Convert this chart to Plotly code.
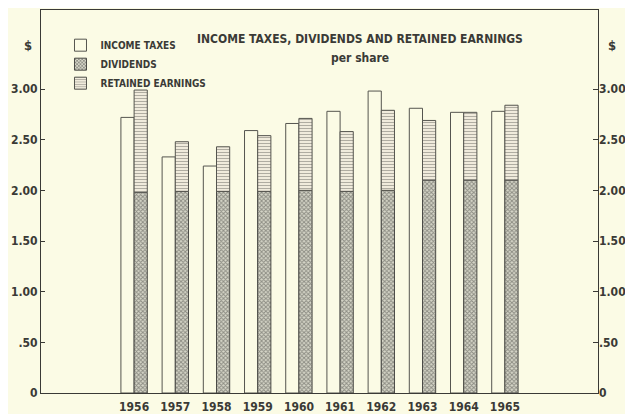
import plotly.graph_objects as go

years = ["1956", "1957", "1958", "1959", "1960", "1961", "1962", "1963", "1964", "1965"]
income_taxes = [2.72, 2.33, 2.24, 2.59, 2.66, 2.78, 2.98, 2.81, 2.77, 2.78]
dividends = [1.98, 1.99, 1.99, 1.99, 2.00, 1.99, 2.00, 2.10, 2.10, 2.10]
totals = [2.99, 2.48, 2.43, 2.54, 2.71, 2.58, 2.79, 2.69, 2.77, 2.84]
retained = [round(t - d, 2) for t, d in zip(totals, dividends)]
tick_vals = [0, 0.5, 1.0, 1.5, 2.0, 2.5, 3.0]
tick_text = ["0", ".50", "1.00", "1.50", "2.00", "2.50", "3.00"]

BG = "#FBFBE5"
INK = "#3a3a36"
FONT = "DejaVu Sans Condensed"

fig = go.Figure()
fig.add_trace(go.Bar(
    x=years, y=income_taxes, name="INCOME TAXES", offsetgroup="a",
    marker=dict(color=BG, line=dict(color="#55554f", width=1)),
))
fig.add_trace(go.Bar(
    x=years, y=dividends, name="DIVIDENDS", offsetgroup="b",
    marker=dict(color="#c4c4b6", line=dict(color="#4a4a46", width=1),
                pattern=dict(shape="x", size=3, solidity=0.55,
                             fgcolor="#444440", bgcolor="#d6d6c8")),
))
fig.add_trace(go.Bar(
    x=years, y=retained, base=dividends, name="RETAINED EARNINGS", offsetgroup="b",
    marker=dict(color="#efeada", line=dict(color="#55554f", width=1),
                pattern=dict(shape="-", size=3, solidity=0.35,
                             fgcolor="#6e6e66", bgcolor="#f0ebdc")),
))

axis_common = dict(showgrid=False, zeroline=False, showline=True, linecolor=INK,
                   linewidth=1, mirror=True, automargin=False)
tfont = dict(size=12, family=FONT, color=INK, weight="bold")

# the page body adds an 8px offset, so the figure is 8px smaller with 8px less margin on the left/top
fig.update_layout(
    width=625, height=406,
    margin=dict(l=33, r=35, t=2, b=21),
    paper_bgcolor=BG, plot_bgcolor=BG,
    barmode="group", bargap=0.36, bargroupgap=0,
    font=dict(family=FONT, color=INK, size=11),
    showlegend=True,
    legend=dict(x=0.035, y=0.946, xanchor="left", yanchor="top",
                bgcolor="rgba(0,0,0,0)", font=dict(size=10, family=FONT, color=INK, weight="bold"),
                itemwidth=30, tracegroupgap=0),
    xaxis=dict(type="category", range=[-2.26, 11.26], ticks="", **axis_common,
               tickfont=tfont, ticklabelstandoff=3),
    yaxis=dict(range=[0, 3.78], tickvals=tick_vals, ticktext=tick_text,
               ticks="inside", ticklen=4, tickcolor=INK,
               tickfont=tfont, **axis_common),
    yaxis2=dict(range=[0, 3.78], tickvals=tick_vals, ticktext=tick_text,
                overlaying="y", side="right", ticks="inside", ticklen=5, tickcolor=INK,
                showgrid=False, zeroline=False, showline=False, automargin=False,
                tickfont=tfont),
)

# invisible trace to activate right axis
fig.add_trace(go.Scatter(x=years, y=totals, yaxis="y2", mode="markers",
                         marker=dict(opacity=0), showlegend=False, hoverinfo="skip"))

fig.add_annotation(text="INCOME TAXES, DIVIDENDS AND RETAINED EARNINGS", xref="paper", yref="paper",
                   x=0.572, y=0.925, xanchor="center", yanchor="middle", showarrow=False,
                   font=dict(size=12, family=FONT, color=INK, weight="bold"))
fig.add_annotation(text="per share", xref="paper", yref="paper",
                   x=0.572, y=0.875, xanchor="center", yanchor="middle", showarrow=False,
                   font=dict(size=12, family=FONT, color=INK, weight="bold"))
fig.add_annotation(text="$", xref="paper", yref="paper", x=-0.023, y=0.908,
                   xanchor="center", yanchor="middle", showarrow=False,
                   font=dict(size=13, family=FONT, color=INK, weight="bold"))
fig.add_annotation(text="$", xref="paper", yref="paper", x=1.025, y=0.908,
                   xanchor="center", yanchor="middle", showarrow=False,
                   font=dict(size=13, family=FONT, color=INK, weight="bold"))

fig.write_html("out.html")
